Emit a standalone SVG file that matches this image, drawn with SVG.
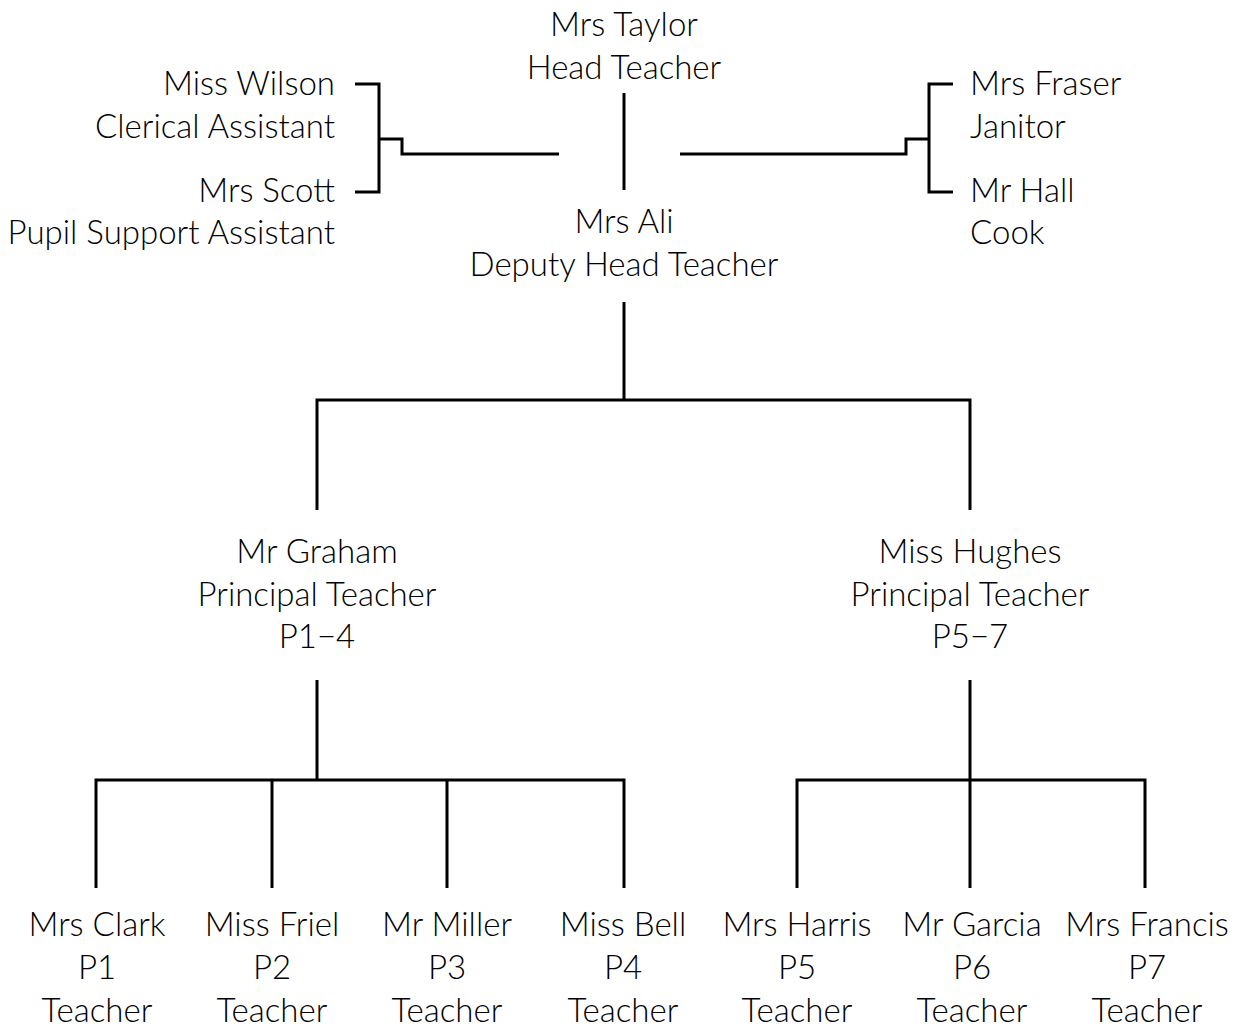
<svg xmlns="http://www.w3.org/2000/svg" width="1237" height="1028" viewBox="0 0 1237 1028">
<style>
text{font-family:"Lato","Liberation Sans",sans-serif;font-weight:300;font-size:33px;fill:#000}
.c{text-anchor:middle}.r{text-anchor:end}.l{text-anchor:start}
.ln{fill:none;stroke:#000;stroke-width:3}
</style>
<rect width="1237" height="1028" fill="#fff"/>
<g id="connectors" class="ln">
<path d="M624,93V190"/>
<path d="M559,154H402V139H379M355,84H379V192H355"/>
<path d="M680,154H906V139H929M953,84H929V192H953"/>
<path d="M624,302V400M317,510V400H970V510"/>
<path d="M317,680V780M96,888V780H624V888M272,780V888M447,780V888"/>
<path d="M970,680V888M797,888V780H1145V888"/>
</g>
<g id="taylor"><text class="c" x="624" y="36">Mrs Taylor</text><text class="c" x="624" y="79">Head Teacher</text></g>
<g id="wilson"><text class="r" x="335" y="95">Miss Wilson</text><text class="r" x="335" y="138">Clerical Assistant</text></g>
<g id="scott"><text class="r" x="335" y="202">Mrs Scott</text><text class="r" x="335" y="244">Pupil Support Assistant</text></g>
<g id="fraser"><text class="l" x="970" y="95">Mrs Fraser</text><text class="l" x="970" y="138">Janitor</text></g>
<g id="hall"><text class="l" x="970" y="202">Mr Hall</text><text class="l" x="970" y="244">Cook</text></g>
<g id="ali"><text class="c" x="624" y="233">Mrs Ali</text><text class="c" x="624" y="276">Deputy Head Teacher</text></g>
<g id="graham"><text class="c" x="317" y="563">Mr Graham</text><text class="c" x="317" y="606">Principal Teacher</text><text class="c" x="317" y="648">P1−4</text></g>
<g id="hughes"><text class="c" x="970" y="563">Miss Hughes</text><text class="c" x="970" y="606">Principal Teacher</text><text class="c" x="970" y="648">P5−7</text></g>
<g id="clark"><text class="c" x="97" y="936">Mrs Clark</text><text class="c" x="97" y="979">P1</text><text class="c" x="97" y="1022">Teacher</text></g>
<g id="friel"><text class="c" x="272" y="936">Miss Friel</text><text class="c" x="272" y="979">P2</text><text class="c" x="272" y="1022">Teacher</text></g>
<g id="miller"><text class="c" x="447" y="936">Mr Miller</text><text class="c" x="447" y="979">P3</text><text class="c" x="447" y="1022">Teacher</text></g>
<g id="bell"><text class="c" x="623" y="936">Miss Bell</text><text class="c" x="623" y="979">P4</text><text class="c" x="623" y="1022">Teacher</text></g>
<g id="harris"><text class="c" x="797" y="936">Mrs Harris</text><text class="c" x="797" y="979">P5</text><text class="c" x="797" y="1022">Teacher</text></g>
<g id="garcia"><text class="c" x="972" y="936">Mr Garcia</text><text class="c" x="972" y="979">P6</text><text class="c" x="972" y="1022">Teacher</text></g>
<g id="francis"><text class="c" x="1147" y="936">Mrs Francis</text><text class="c" x="1147" y="979">P7</text><text class="c" x="1147" y="1022">Teacher</text></g>
</svg>
